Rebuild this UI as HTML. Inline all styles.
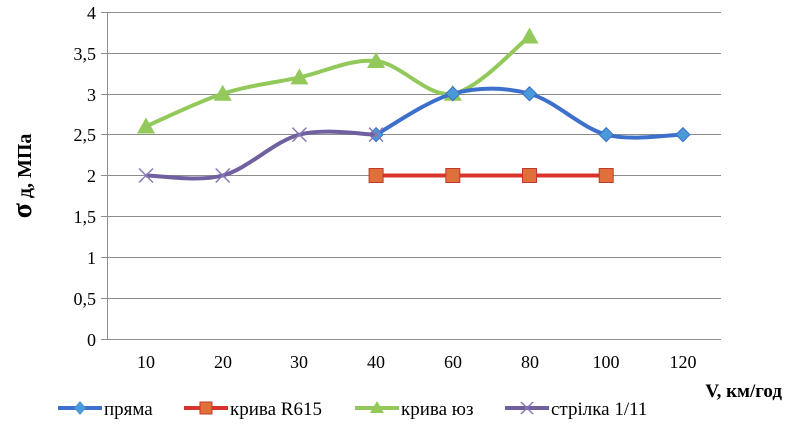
<!DOCTYPE html>
<html><head><meta charset="utf-8"><style>
body{margin:0;background:#fff;}
svg, svg text{font-family:"Liberation Serif","DejaVu Serif",serif;font-style:normal;}
</style></head><body>
<svg id="s" width="787" height="426" xmlns="http://www.w3.org/2000/svg" font-family="Liberation Serif, serif">
<g stroke="#8c8c8c" stroke-width="1">
<line x1="101" y1="12.5" x2="721" y2="12.5"/>
<line x1="101" y1="53.5" x2="721" y2="53.5"/>
<line x1="101" y1="94.5" x2="721" y2="94.5"/>
<line x1="101" y1="134.5" x2="721" y2="134.5"/>
<line x1="101" y1="175.5" x2="721" y2="175.5"/>
<line x1="101" y1="216.5" x2="721" y2="216.5"/>
<line x1="101" y1="257.5" x2="721" y2="257.5"/>
<line x1="101" y1="298.5" x2="721" y2="298.5"/>
<line x1="101" y1="339.5" x2="721" y2="339.5"/>
<line x1="107.5" y1="12" x2="107.5" y2="339"/>
</g>
<g font-size="18" text-anchor="end" fill="#000" font-family="Liberation Serif, serif">
<text x="96" y="19">4</text><text x="96" y="60">3,5</text><text x="96" y="101">3</text>
<text x="96" y="141">2,5</text><text x="96" y="182">2</text><text x="96" y="223">1,5</text>
<text x="96" y="264">1</text><text x="96" y="305">0,5</text><text x="96" y="346">0</text>
</g>
<g font-size="18" text-anchor="middle" fill="#000" font-family="Liberation Serif, serif">
<text x="146" y="368">10</text><text x="223" y="368">20</text><text x="299" y="368">30</text>
<text x="376" y="368">40</text><text x="453" y="368">60</text><text x="530" y="368">80</text>
<text x="606" y="368">100</text><text x="683" y="368">120</text>
</g>
<text x="782" y="397" font-size="19" font-weight="bold" text-anchor="end" font-family="Liberation Serif, serif">V, км/год</text>
<text transform="translate(31,176) rotate(-90)" font-size="20" font-weight="bold" text-anchor="middle" font-family="Liberation Serif, serif"><tspan font-size="28">σ</tspan> д, МПа</text>
<g id="series"></g>
<g font-size="19" fill="#000" font-family="Liberation Serif, serif">
<line x1="58" y1="408" x2="102" y2="408" stroke="#3d6fcc" stroke-width="4"/>
<path d="M80 401 L86 408 L80 415 L74 408Z" fill="#4a9ad8"/>
<text x="104" y="415">пряма</text>
<line x1="184" y1="408" x2="228" y2="408" stroke="#d9342b" stroke-width="4"/>
<rect x="200" y="402" width="12" height="12" fill="#e0703a" stroke="#c0392b"/>
<text x="230" y="415">крива R615</text>
<line x1="355" y1="408" x2="399" y2="408" stroke="#92c95a" stroke-width="4"/>
<path d="M377 401 L384 413 L370 413Z" fill="#92c95a"/>
<text x="401" y="415">крива юз</text>
<line x1="505" y1="408" x2="549" y2="408" stroke="#7060a0" stroke-width="4"/>
<path d="M521 402 L533 414 M533 402 L521 414" stroke="#8878b8" stroke-width="1.5"/>
<text x="551" y="415">стрілка 1/11</text>
</g>
</svg>
<script>
var X=i=>146+76.7*i, Y=v=>339-81.75*v;
function path(pts,smooth){
 var d="M"+pts[0][0]+" "+pts[0][1];
 for(var i=0;i<pts.length-1;i++){
  var p0=pts[i-1]||pts[i],p1=pts[i],p2=pts[i+1],p3=pts[i+2]||p2;
  if(!smooth){d+=" L"+p2[0]+" "+p2[1];continue;}
  var t=1/6;
  d+=" C"+(p1[0]+(p2[0]-p0[0])*t)+" "+(p1[1]+(p2[1]-p0[1])*t)+" "+(p2[0]-(p3[0]-p1[0])*t)+" "+(p2[1]-(p3[1]-p1[1])*t)+" "+p2[0]+" "+p2[1];
 }
 return d;
}
var g=document.getElementById("series"),h="";
function ser(start,vals,col,smooth,mk){
 var pts=vals.map((v,k)=>[X(start+k),Y(v)]);
 h+='<path d="'+path(pts,smooth)+'" fill="none" stroke="'+col+'" stroke-width="4"/>';
 pts.forEach(p=>{var x=p[0],y=p[1];
  if(mk=="d")h+='<path d="M'+x+' '+(y-7)+' L'+(x+7)+' '+y+' L'+x+' '+(y+7)+' L'+(x-7)+' '+y+'Z" fill="#4a9ad8" stroke="#3d6fcc"/>';
  if(mk=="s")h+='<rect x="'+(x-7)+'" y="'+(y-7)+'" width="14" height="14" fill="#e0703a" stroke="#c0392b"/>';
  if(mk=="t")h+='<path d="M'+x+' '+(y-9)+' L'+(x+9)+' '+(y+7)+' L'+(x-9)+' '+(y+7)+'Z" fill="#92c95a"/>';
  if(mk=="x")h+='<path d="M'+(x-7)+' '+(y-7)+' L'+(x+7)+' '+(y+7)+' M'+(x+7)+' '+(y-7)+' L'+(x-7)+' '+(y+7)+'" stroke="#8878b8" stroke-width="1.5"/>';
 });
}
ser(0,[2.6,3,3.2,3.4,3,3.7],"#92c95a",true,"t");
ser(3,[2.5,3,3,2.5,2.5],"#3d6fcc",true,"d");
ser(3,[2,2,2,2],"#d9342b",false,"s");
ser(0,[2,2,2.5,2.5],"#7060a0",true,"x");
g.innerHTML=h;
</script>
</body></html>
